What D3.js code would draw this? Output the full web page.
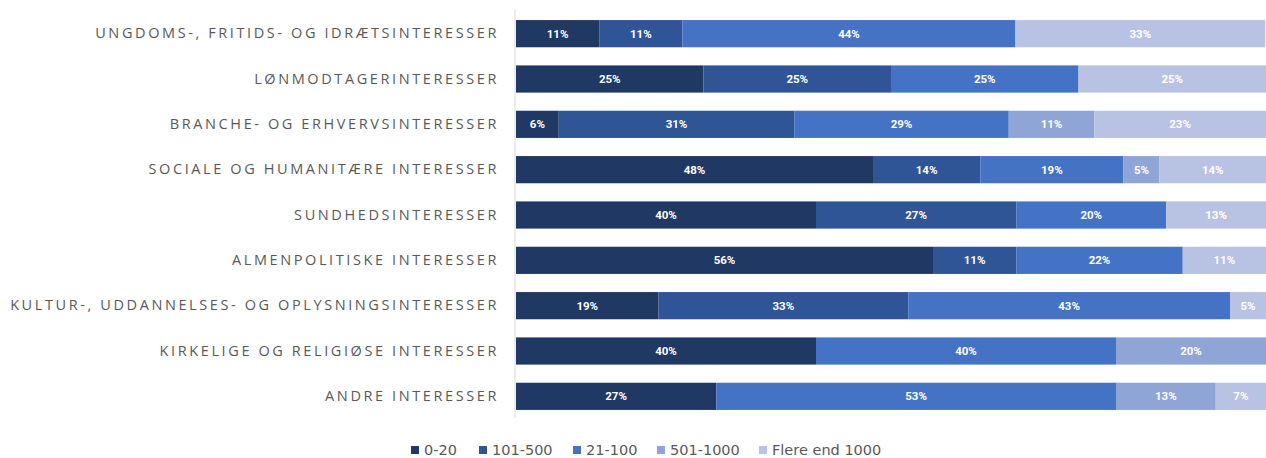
<!DOCTYPE html>
<html>
<head>
<meta charset="utf-8">
<script src="https://cdn.jsdelivr.net/npm/d3@7"></script>
<style>
  html, body { margin: 0; padding: 0; background: #fff; }
  svg { display: block; }
</style>
</head>
<body>
<svg id="chart" width="1266" height="458"></svg>
<script>
const categories = [
  "UNGDOMS-, FRITIDS- OG IDRÆTSINTERESSER",
  "LØNMODTAGERINTERESSER",
  "BRANCHE- OG ERHVERVSINTERESSER",
  "SOCIALE OG HUMANITÆRE INTERESSER",
  "SUNDHEDSINTERESSER",
  "ALMENPOLITISKE INTERESSER",
  "KULTUR-, UDDANNELSES- OG OPLYSNINGSINTERESSER",
  "KIRKELIGE OG RELIGIØSE INTERESSER",
  "ANDRE INTERESSER"
];
const seriesNames = ["0-20", "101-500", "21-100", "501-1000", "Flere end 1000"];
const s0_20      = [11.1, 25, 5.7, 47.6, 40.0, 55.6, 19.0, 40, 26.7];
const s101_500   = [11.1, 25, 31.4, 14.3, 26.7, 11.1, 33.3, 0, 0];
const s21_100    = [44.4, 25, 28.6, 19.1, 20.0, 22.2, 42.9, 40, 53.3];
const s501_1000  = [0, 0, 11.4, 4.8, 0, 0, 0, 20, 13.3];
const sFlere     = [33.3, 25, 22.9, 14.2, 13.3, 11.1, 4.8, 0, 6.7];
const colors = ["#203864", "#2F5597", "#4472C4", "#8FA5D6", "#B8C2E3"];

const seriesValues = [s0_20, s101_500, s21_100, s501_1000, sFlere];
const rows = categories.map((c, i) => {
  const o = { cat: c };
  seriesNames.forEach((s, j) => o[s] = seriesValues[j][i]);
  return o;
});

const svg = d3.select("#chart");
const x = d3.scaleLinear().domain([0, 100]).range([516, 1266]);
const y = d3.scaleBand().domain(categories).range([10, 418]).paddingInner(0.4).paddingOuter(0.2);

const stack = d3.stack().keys(seriesNames)(rows);
const color = d3.scaleOrdinal().domain(seriesNames).range(colors);

const g = svg.append("g");
stack.forEach(layer => {
  const lg = g.append("g").attr("fill", color(layer.key));
  lg.selectAll("rect").data(layer.filter(d => d[1] - d[0] > 0)).join("rect")
    .attr("x", d => x(d[0]))
    .attr("y", d => y(d.data.cat) + 1)
    .attr("width", d => x(d[1]) - x(d[0]))
    .attr("height", y.bandwidth());
  g.append("g").selectAll("text").data(layer.filter(d => d[1] - d[0] > 0)).join("text")
    .attr("x", d => (x(d[0]) + x(d[1])) / 2)
    .attr("y", d => y(d.data.cat) + 1 + y.bandwidth() / 2)
    .attr("dy", "0.36em")
    .attr("text-anchor", "middle")
    .attr("fill", "#fff")
    .attr("font-family", "Roboto, sans-serif")
    .attr("font-weight", "bold")
    .attr("font-size", 11.5)
    .text(d => Math.round(d[1] - d[0]) + "%");
});

// y axis
const yAxis = d3.axisLeft(y).tickSize(0).tickPadding(16);
const ya = svg.append("g").attr("transform", "translate(515,1)").call(yAxis);
ya.select(".domain").attr("stroke", "#d9d9d9").attr("d", "M0,9V417");
ya.selectAll("text")
  .attr("font-family", "'Open Sans', sans-serif")
  .attr("font-size", 14.5)
  .attr("letter-spacing", "2.6px")
  .attr("fill", "#595959");

// legend
const legendX = [411, 479, 573, 657, 759];
const lg = svg.append("g");
seriesNames.forEach((s, i) => {
  lg.append("rect").attr("x", legendX[i]).attr("y", 446).attr("width", 8).attr("height", 8).attr("fill", colors[i]);
  lg.append("text").attr("x", legendX[i] + 13).attr("y", 450).attr("dy", "0.35em")
    .attr("font-family", "'DejaVu Sans', sans-serif").attr("font-size", 14.5).attr("fill", "#595959").text(s);
});
</script>
</body>
</html>
